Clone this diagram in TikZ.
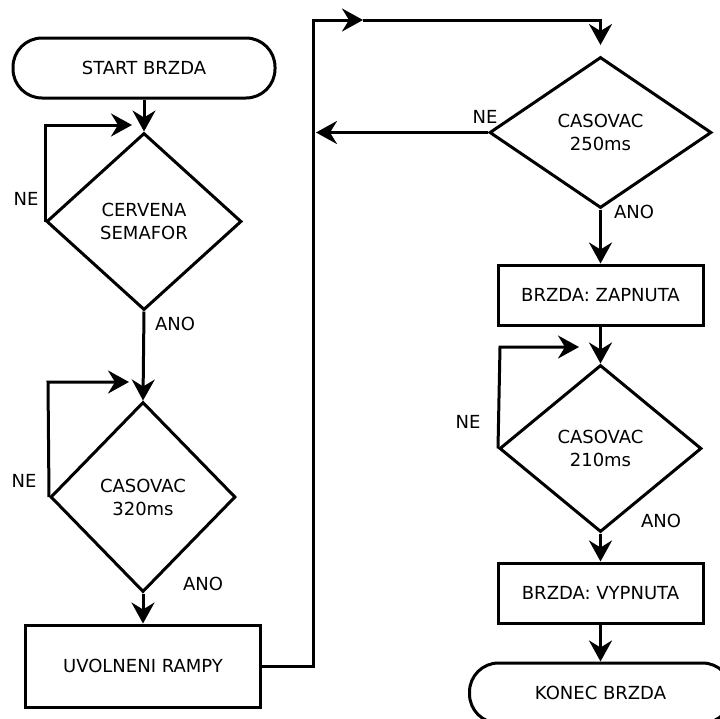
\documentclass[tikz,border=0pt]{standalone}
\usepackage{fontspec}
\setmainfont{DejaVu Sans}
\usetikzlibrary{shapes.geometric,arrows.meta}
\begin{document}
\begin{tikzpicture}[x=1pt,y=-1pt,
  line width=3pt,
  every node/.style={font=\fontsize{18pt}{23pt}\selectfont},
  term/.style={draw,rectangle,rounded corners=29pt,minimum width=262pt,minimum height=60pt,inner sep=0pt},
  proc/.style={draw,rectangle,inner sep=0pt},
  dec/.style={draw,diamond,inner sep=0pt,align=center},
  lbl/.style={inner sep=0pt},
  arr/.style={-{Stealth[length=21pt,width=23pt,inset=7pt]}}]
\useasboundingbox (0,0) rectangle (720,718);

\node[term] (start) at (144,68) {START BRZDA};
\node[dec,minimum width=195pt,minimum height=177pt] (d1) at (144,221.5) {CERVENA\\SEMAFOR};
\node[dec,minimum width=185pt,minimum height=190pt] (d2) at (143,497) {CASOVAC\\320ms};
\node[proc,minimum width=235pt,minimum height=82pt] (b1) at (143,666) {UVOLNENI RAMPY};
\node[dec,minimum width=222pt,minimum height=151pt] (d3) at (600.5,132.5) {CASOVAC\\250ms};
\node[proc,minimum width=205pt,minimum height=60pt] (b2) at (600.5,295) {BRZDA: ZAPNUTA};
\node[dec,minimum width=202pt,minimum height=167pt] (d4) at (600.5,448.5) {CASOVAC\\210ms};
\node[proc,minimum width=205pt,minimum height=60pt] (b3) at (600.5,593) {BRZDA: VYPNUTA};
\node[term] (end) at (600.5,693) {KONEC BRZDA};

\node[lbl] (ne1) at (26,199) {NE};
\node[lbl] (ano1) at (175,324) {ANO};
\node[lbl] (ne2) at (24,481) {NE};
\node[lbl] (ano2) at (203,584) {ANO};
\node[lbl] (ne3) at (485,117) {NE};
\node[lbl] (ano3) at (634,212) {ANO};
\node[lbl] (ne4) at (468,422) {NE};
\node[lbl] (ano4) at (661,521) {ANO};

\coordinate (l1a) at (45,125);
\coordinate (l1b) at (132,125);
\coordinate (l2a) at (48,382);
\coordinate (l2b) at (129,382);
\coordinate (r1) at (313,666);
\coordinate (r2) at (313,20);
\coordinate (r3) at (363,20);
\coordinate (r4) at (600.5,20);
\coordinate (r5) at (600.5,45);
\coordinate (n3) at (316,132.5);
\coordinate (l4a) at (500,347);
\coordinate (l4b) at (579,347);

\draw[arr] (start.south) -- (d1.north);
\draw[arr] (d1.west) -- (l1a) -- (l1b);
\draw[arr] (d1.south) -- (d2.north);
\draw[arr] (d2.west) -- (l2a) -- (l2b);
\draw[arr] (d2.south) -- (b1.north);
\draw[arr] (b1.east) -- (r1) -- (r2) -- (r3);
\draw[arr] (r3) -- (r4) -- (r5);
\draw[arr] (d3.west) -- (n3);
\draw[arr] (d3.south) -- (b2.north);
\draw[arr] (b2.south) -- (d4.north);
\draw[arr] (d4.west) -- (l4a) -- (l4b);
\draw[arr] (d4.south) -- (b3.north);
\draw[arr] (b3.south) -- (end.north);
\end{tikzpicture}
\end{document}
